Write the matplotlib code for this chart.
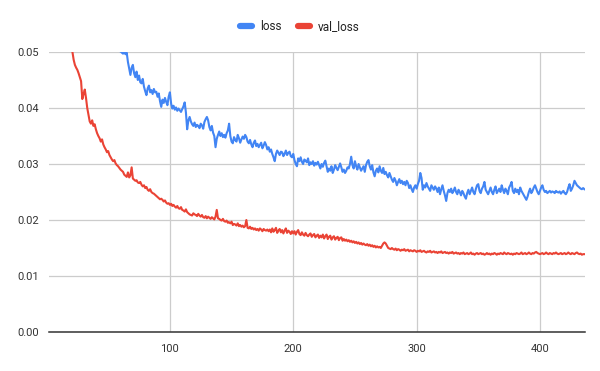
import numpy as np
import matplotlib
matplotlib.use("Agg")
import matplotlib.pyplot as plt
from matplotlib.lines import Line2D

plt.rcParams['font.family'] = ['Roboto', 'DejaVu Sans']

first_epoch = 2

# loss values in units of 1e-4, one per epoch starting at epoch 2
loss_e4 = (
    [1500, 1150, 1000, 920, 860, 820, 785, 755, 730, 710, 690, 672, 657, 645, 633, 622, 612, 604, 596]
    + [590, 583, 577, 572, 566, 562, 557, 553, 549, 546, 542, 539, 536, 533, 531, 528, 526, 524, 522, 520]
    + [518, 516, 515, 513, 512, 511, 510, 509, 508, 507, 507, 506, 506, 505, 505, 504, 504, 503, 502, 501]
    + [499, 497, 500, 496, 499, 482, 470, 459, 472, 477, 462, 455, 465, 450, 458, 446, 444, 452, 438, 430]
    + [423, 435, 440, 428, 432, 425, 434, 428, 429, 420, 426, 412, 402, 415, 409, 418, 411, 405, 420, 428]
    + [408, 399, 404, 397, 401, 395, 399, 396, 393, 398, 403, 410, 392, 362, 378, 384, 376, 371, 368, 374]
    + [366, 370, 368, 364, 372, 369, 363, 375, 380, 384, 378, 366, 360, 368, 356, 350, 330, 345, 352, 358]
    + [350, 355, 348, 352, 347, 355, 360, 372, 350, 340, 337, 348, 343, 340, 352, 346, 338, 344, 349, 345]
    + [352, 348, 340, 337, 343, 335, 330, 338, 342, 332, 336, 330, 334, 338, 328, 333, 339, 334, 326, 330]
    + [322, 326, 318, 312, 305, 318, 324, 320, 316, 322, 321, 314, 318, 324, 316, 320, 322, 314, 312, 318]
    + [307, 300, 296, 310, 305, 312, 304, 300, 308, 306, 303, 310, 298, 303, 300, 305, 297, 302, 299, 304]
    + [298, 292, 300, 295, 302, 306, 296, 286, 292, 288, 296, 284, 290, 298, 293, 289, 295, 301, 294, 286]
    + [290, 284, 288, 294, 292, 300, 313, 298, 292, 305, 296, 290, 300, 294, 288, 292, 296, 286, 298, 304]
    + [307, 296, 290, 298, 285, 278, 288, 292, 285, 296, 288, 284, 293, 282, 286, 280, 276, 284, 278, 272]
    + [268, 275, 270, 262, 268, 273, 266, 270, 264, 268, 262, 270, 266, 257, 262, 255, 250, 258, 262, 256]
    + [264, 270, 284, 275, 254, 262, 258, 266, 260, 256, 252, 262, 258, 254, 260, 256, 250, 258, 246, 255]
    + [262, 252, 244, 234, 248, 254, 250, 256, 248, 252, 258, 250, 246, 254, 250, 244, 252, 248, 242, 238]
    + [248, 254, 246, 252, 258, 250, 246, 255, 262, 264, 252, 248, 256, 260, 268, 254, 250, 246, 252, 258]
    + [250, 246, 254, 260, 248, 252, 256, 250, 262, 254, 248, 256, 252, 246, 258, 262, 268, 252, 248, 256]
    + [250, 254, 246, 258, 252, 248, 244, 240, 236, 242, 250, 256, 248, 252, 258, 262, 256, 250, 246, 252]
    + [258, 262, 254, 250, 252, 248, 250, 252, 249, 251, 250, 248, 252, 250, 249, 251, 247, 250, 252, 248]
    + [246, 250, 258, 264, 252, 256, 262, 270, 266, 262, 260, 258, 256, 255, 257, 255]
)

# val_loss values in units of 1e-4, one per epoch starting at epoch 2
val_loss_e4 = (
    [1200, 1050, 950, 880, 820, 770, 730, 700, 670, 640, 615, 595, 575, 560, 545, 532, 520, 512, 505]
    + [500, 486, 477, 472, 468, 462, 455, 448, 416, 425, 433, 418, 400, 388, 376, 372, 378, 368, 371, 362]
    + [355, 350, 346, 340, 344, 335, 330, 326, 321, 323, 316, 312, 308, 305, 307, 301, 298, 296, 293, 290]
    + [288, 286, 281, 279, 277, 285, 276, 280, 294, 274, 272, 270, 271, 267, 266, 268, 263, 260, 262, 257]
    + [259, 254, 252, 255, 250, 248, 247, 245, 243, 241, 239, 237, 238, 236, 233, 235, 231, 229, 230, 227]
    + [229, 225, 227, 224, 222, 225, 221, 220, 223, 218, 217, 215, 219, 214, 212, 210, 209, 208, 212, 210]
    + [209, 207, 211, 208, 206, 209, 205, 204, 207, 203, 206, 204, 202, 205, 203, 201, 206, 218, 203, 202]
    + [200, 199, 202, 198, 197, 199, 195, 196, 194, 197, 191, 193, 192, 190, 194, 189, 191, 188, 190, 187]
    + [189, 200, 186, 185, 188, 184, 186, 183, 185, 182, 184, 181, 185, 183, 180, 184, 182, 181, 183, 180]
    + [183, 178, 185, 179, 182, 186, 177, 181, 184, 178, 182, 176, 181, 185, 177, 181, 179, 175, 180, 176]
    + [180, 174, 179, 182, 175, 173, 178, 174, 172, 177, 173, 171, 174, 176, 170, 173, 175, 169, 172, 174]
    + [168, 172, 169, 174, 167, 171, 174, 166, 170, 172, 165, 169, 171, 165, 168, 170, 164, 168, 169, 163]
    + [166, 163, 165, 162, 164, 161, 163, 160, 162, 159, 161, 158, 160, 157, 159, 156, 158, 156, 155, 157]
    + [154, 156, 153, 155, 152, 154, 151, 153, 151, 152, 150, 154, 158, 160, 158, 154, 150, 149, 148, 150]
    + [148, 147, 149, 146, 148, 147, 145, 147, 146, 148, 145, 146, 147, 144, 146, 145, 144, 146, 145, 143]
    + [145, 144, 146, 143, 144, 145, 143, 142, 144, 143, 145, 142, 143, 144, 142, 143, 141, 143, 142, 144]
    + [141, 142, 143, 141, 142, 140, 142, 141, 143, 140, 141, 142, 140, 141, 139, 141, 140, 142, 139, 140]
    + [141, 139, 140, 142, 139, 140, 138, 140, 141, 139, 140, 141, 139, 140, 138, 139, 141, 139, 140, 138]
    + [140, 139, 141, 140, 138, 140, 139, 141, 140, 139, 142, 140, 139, 141, 140, 139, 140, 138, 140, 139]
    + [141, 140, 139, 140, 142, 139, 140, 141, 139, 140, 142, 140, 139, 141, 140, 142, 143, 141, 140, 139]
    + [140, 141, 139, 140, 142, 140, 139, 141, 140, 139, 141, 140, 142, 140, 139, 140, 141, 139, 140, 141]
    + [139, 140, 142, 140, 139, 141, 140, 139, 141, 142, 140, 139, 140, 138, 139, 139]
)

y_ticks = [0.00, 0.01, 0.02, 0.03, 0.04, 0.05]
x_ticks = [100, 200, 300, 400]

loss = np.array(loss_e4) * 1e-4
val_loss = np.array(val_loss_e4) * 1e-4
ep_loss = np.arange(first_epoch, first_epoch + len(loss))
ep_val = np.arange(first_epoch, first_epoch + len(val_loss))

BLUE = '#4285F4'
RED = '#EA4335'

fig = plt.figure(figsize=(6.0, 3.71), dpi=100)
ax = fig.add_axes([49 / 600, 1 - 332 / 371, (584.6 - 49) / 600, 280 / 371])

ax.plot(ep_loss, loss, color=BLUE, lw=1.5, solid_joinstyle='round', zorder=3)
ax.plot(ep_val, val_loss, color=RED, lw=1.5, solid_joinstyle='round', zorder=3)

ax.set_xlim(2, 436.2)
ax.set_ylim(0, 0.05)
ax.set_yticks(y_ticks)
ax.set_yticklabels([f'{t:.2f}' for t in y_ticks])
ax.set_xticks(x_ticks)
ax.set_xticklabels([str(t) for t in x_ticks])
ax.grid(True, color='#cccccc', lw=0.9, zorder=0)
ax.set_axisbelow(True)
ax.tick_params(length=0, labelsize=8, colors='#333333')
ax.tick_params(axis='y', pad=7)
ax.tick_params(axis='x', pad=9)
for s in ['top', 'right', 'left']:
    ax.spines[s].set_visible(False)
ax.spines['bottom'].set_color('#333333')
ax.spines['bottom'].set_linewidth(1.1)
ax.spines['bottom'].set_zorder(4)

handles = [Line2D([0], [0], color=BLUE, lw=4.5, solid_capstyle='round'),
           Line2D([0], [0], color=RED, lw=4.5, solid_capstyle='round')]
fig.legend(handles, ['loss', 'val_loss'], loc='center', bbox_to_anchor=(0.5, 1 - 27 / 371),
           ncol=2, frameon=False, fontsize=8.5, handlelength=1.0, handletextpad=0.7,
           columnspacing=1.4, labelcolor='#222222')

fig.savefig('out.png', dpi=100)
